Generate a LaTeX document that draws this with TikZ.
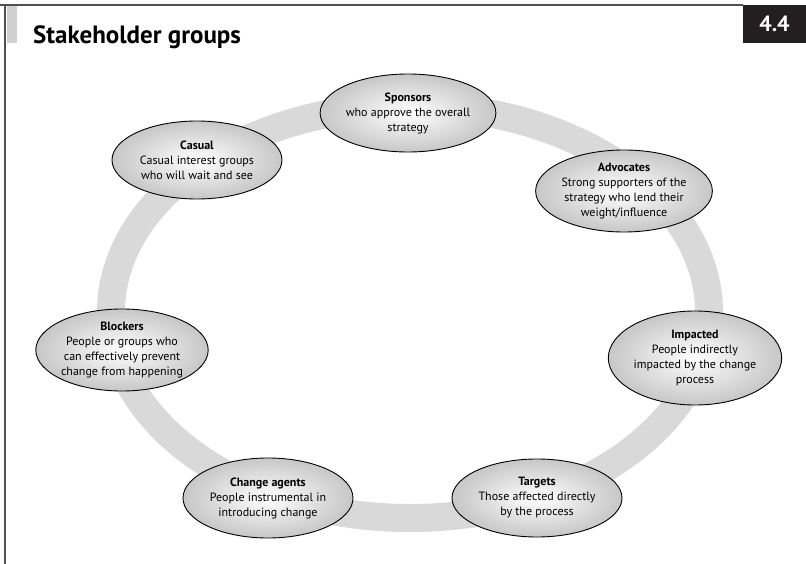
\documentclass[tikz,border=0pt]{standalone}
\usepackage{fontspec}
\setmainfont{PT Sans}
\usetikzlibrary{shapes.geometric}
\definecolor{ringgray}{HTML}{D9D9D9}
\definecolor{bargray}{HTML}{D0D0D0}
\definecolor{framegray}{HTML}{505050}
\definecolor{boxblack}{HTML}{231F20}
\begin{document}
\begin{tikzpicture}[x=1pt,y=-1pt,
  grp/.style={ellipse, draw=black, line width=0.9pt, inner sep=0pt,
    inner color=white, outer color=black!22,
    minimum width=170pt, minimum height=78pt,
    align=center, font=\fontsize{12}{15}\selectfont},
  hd/.style={font=\bfseries}]
\useasboundingbox (0,0) rectangle (806,564);
% frame
\draw[framegray, line width=1.5pt] (0,5) -- (743,5);
\draw[framegray, line width=1.5pt] (5,5) -- (5,564);
\fill[bargray] (7,6) rectangle (17,43);
\fill[boxblack] (743,5) rectangle (806,43);
\node[text=white, font=\fontsize{22}{24}\selectfont\bfseries] (num) at (774.5,24) {4.4};
\node[anchor=base west, inner sep=0pt, font=\fontsize{25}{28}\selectfont\bfseries] (title) at (33,44) {Stakeholder groups};
% ring
\draw[ringgray, line width=28pt] (410,312) ellipse [x radius=299, y radius=206];
% groups
\node[grp] (spons) at (408,113) {{\bfseries Sponsors}\\who approve the overall\\strategy};
\node[grp] (casual) at (197,160) {{\bfseries Casual}\\Casual interest groups\\who will wait and see};
\node[grp, minimum height=82pt] (advoc) at (624,191) {{\bfseries Advocates}\\Strong supporters of the\\strategy who lend their\\weight/influence};
\node[grp, minimum height=82pt] (block) at (122,350) {{\bfseries Blockers}\\People or groups who\\can effectively prevent\\change from happening};
\node[grp, minimum height=94pt] (impact) at (695,358) {{\bfseries Impacted}\\People indirectly\\impacted by the change\\process};
\node[grp, minimum height=80pt] (agents) at (268,498) {{\bfseries Change agents}\\People instrumental in\\introducing change};
\node[grp, minimum height=78pt] (targets) at (537,498) {{\bfseries Targets}\\Those affected directly\\by the process};
\end{tikzpicture}
\end{document}
